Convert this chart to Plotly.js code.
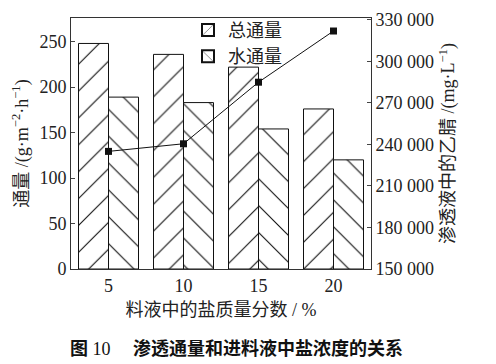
<!DOCTYPE html>
<html>
<head>
<meta charset="utf-8">
<script src="https://cdn.plot.ly/plotly-3.0.1.min.js"></script>
<style>html,body{margin:0;padding:0;background:#fff;}#chart{width:496px;height:364px;}</style>
</head>
<body>
<div id="chart"></div>
<script>
const saltFraction = [5, 10, 15, 20];
const totalFlux = [248, 236, 222, 176];
const waterFlux = [189, 183, 154, 120];
const acetonitrile = [235000, 240500, 285000, 322000];
const leftTicks = [0, 50, 100, 150, 200, 250];
const rightTicks = [150000, 180000, 210000, 240000, 270000, 300000, 330000];

const FONT = 'Liberation Serif, Times New Roman, Noto Sans CJK SC, serif';
const pat = (shape) => ({shape: shape, size: 19, solidity: 0.06, fgcolor: '#111', bgcolor: '#fff', fillmode: 'replace'});

const traces = [
  {type: 'bar', name: '总通量', x: saltFraction, y: totalFlux,
   marker: {color: '#fff', line: {color: '#111', width: 1}, pattern: pat('/')}},
  {type: 'bar', name: '水通量', x: saltFraction, y: waterFlux,
   marker: {color: '#fff', line: {color: '#111', width: 1}, pattern: pat('\\')}},
  {type: 'scatter', mode: 'lines+markers', name: '乙腈', x: saltFraction, y: acetonitrile, yaxis: 'y2',
   showlegend: false, line: {color: '#111', width: 1}, marker: {symbol: 'square', size: 7, color: '#111'}}
];

const layout = {
  width: 496, height: 364,
  margin: {l: 71, r: 125, t: 15, b: 95},
  paper_bgcolor: '#fff', plot_bgcolor: '#fff',
  font: {family: FONT, size: 18, color: '#222'},
  barmode: 'group', bargap: 0.2, bargroupgap: 0,
  showlegend: true,
  legend: {x: 0.39, y: 1.025, xanchor: 'left', yanchor: 'top', bgcolor: 'rgba(0,0,0,0)',
           font: {family: FONT, size: 18}, tracegroupgap: 0, itemsizing: 'constant'},
  xaxis: {range: [2.5, 22.5], tickvals: saltFraction, ticktext: saltFraction.map(String),
          showline: true, linecolor: '#333', linewidth: 1, mirror: true, ticks: '', showgrid: false, zeroline: false,
          title: {text: '料液中的盐质量分数 / %', font: {size: 18}, standoff: 8}},
  yaxis: {range: [0, 276], tickvals: leftTicks, ticktext: leftTicks.map(String), ticks: 'inside', ticklen: 4,
          showline: true, linecolor: '#333', showgrid: false, zeroline: false,
          title: {text: '通量 /(g·m<sup>−2</sup>·h<sup>−1</sup>)', font: {size: 18}, standoff: 6}},
  yaxis2: {overlaying: 'y', side: 'right', range: [150000, 331400], tickvals: rightTicks,
           ticktext: rightTicks.map(v => (v/1000) + ' 000'), ticks: 'inside', ticklen: 4,
           showline: true, linecolor: '#333', showgrid: false, zeroline: false,
           title: {text: '渗透液中的乙腈 /(mg·L<sup>−1</sup>)', font: {size: 18}, standoff: 8}},
  annotations: [
    {xref: 'paper', yref: 'paper', x: -0.01, y: 0, yshift: -79, xanchor: 'left', yanchor: 'middle', showarrow: false,
     text: '<b>图</b> 10　 <b>渗透通量和进料液中盐浓度的关系</b>', font: {family: FONT, size: 18, color: '#111'}}
  ]
};

Plotly.newPlot('chart', traces, layout, {displayModeBar: false, staticPlot: true});
</script>
</body>
</html>
